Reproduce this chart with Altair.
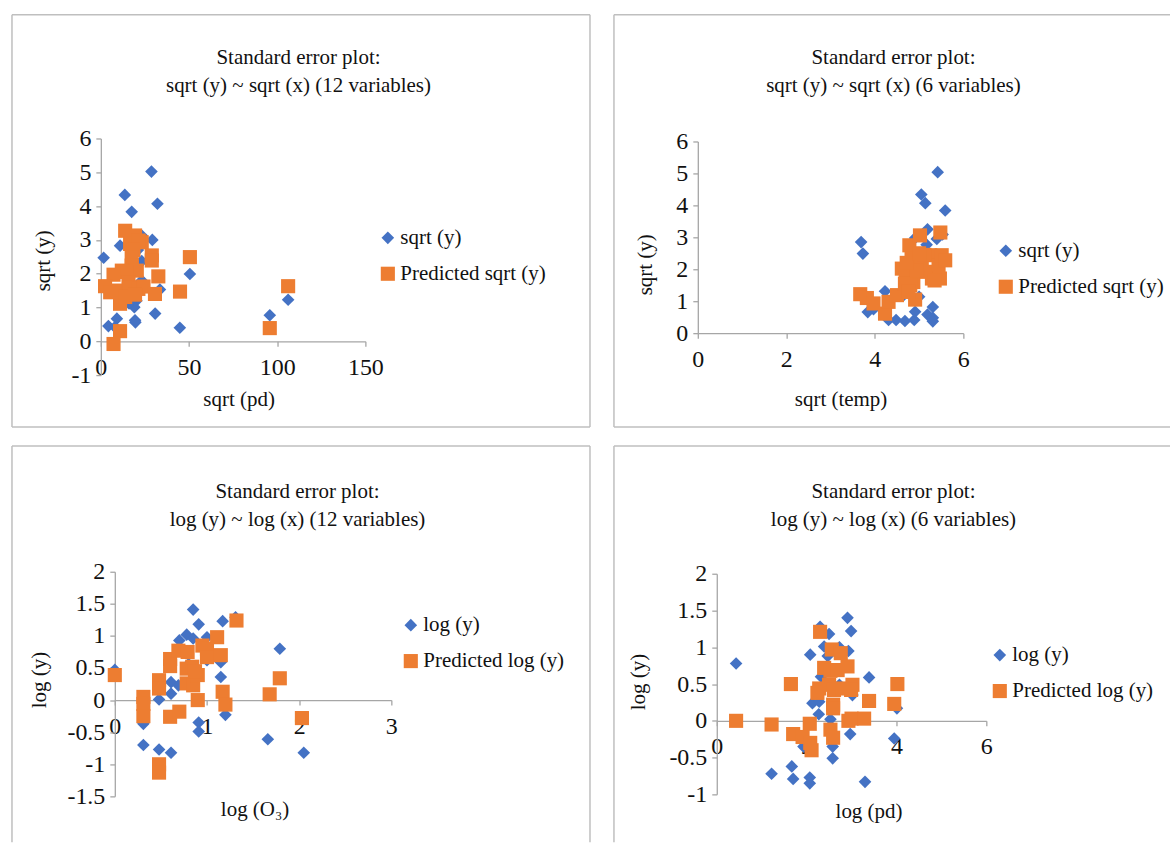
import altair as alt
import pandas as pd

FONT = "Liberation Serif"
TEXT = "#111111"
AXIS_GRAY = "#a6a6a6"
FRAME_GRAY = "#bfbfbf"
BLUE = "#4472C4"
ORANGE = "#ED7D31"

# ---------------- data ----------------
# Panel 1: sqrt(y) ~ sqrt(x) (12 variables), x = sqrt(pd)
p1_obs_x = [28.7, 13.6, 32.1, 17.5, 23.2, 29.2, 10.9, 1.6, 23.2, 50.5, 23.2, 33.5, 14.7, 20.2,
            19.0, 30.8, 19.4, 19.6, 9.1, 4.3, 8.0, 44.8, 95.8, 106.2, 16.0, 21.0, 14.5]
p1_obs_y = [5.02, 4.33, 4.07, 3.83, 3.13, 3.00, 2.83, 2.47, 2.37, 1.99, 1.80, 1.53, 1.22, 1.20,
            1.01, 0.82, 0.62, 0.56, 0.67, 0.45, 0.42, 0.40, 0.77, 1.23, 1.12, 2.70, 1.90]
p1_pred_x = [13.8, 19.4, 23.2, 16.6, 21.5, 18.5, 28.9, 28.9, 50.5, 17.5, 17.5, 20.4, 11.9, 14.5,
             7.2, 32.6, 2.4, 5.3, 10.0, 15.7, 16.5, 21.3, 24.2, 30.7, 44.9, 10.9, 13.8, 19.4,
             10.9, 7.2, 95.8, 106.2]
p1_pred_y = [3.27, 3.13, 2.93, 2.88, 2.98, 2.70, 2.54, 2.39, 2.49, 2.49, 2.24, 2.09, 2.09, 2.05,
             1.97, 1.92, 1.63, 1.45, 1.50, 1.75, 1.60, 1.55, 1.62, 1.40, 1.47, 1.11, 1.31, 1.38,
             0.30, -0.08, 0.39, 1.63]

# Panel 2: sqrt(y) ~ sqrt(x) (6 variables), x = sqrt(temp)
p2_obs_x = [5.42, 5.05, 5.14, 5.59, 5.19, 5.53, 5.40, 4.91, 5.17, 3.69, 3.73, 4.95, 4.23, 5.00,
            4.65, 3.84, 3.97, 4.31, 4.48, 4.68, 4.89, 4.91, 5.19, 5.31, 5.31, 5.31]
p2_obs_y = [5.04, 4.34, 4.07, 3.84, 3.25, 3.09, 2.95, 2.98, 2.77, 2.85, 2.49, 2.04, 1.31, 1.14,
            1.19, 0.66, 0.75, 0.41, 0.41, 0.38, 0.41, 0.67, 0.58, 0.82, 0.48, 0.37]
p2_pred_x = [3.67, 3.82, 3.97, 4.23, 4.31, 4.50, 4.61, 4.70, 4.78, 4.83, 4.87, 4.91, 4.80, 5.02,
             5.06, 5.17, 5.25, 5.29, 5.48, 5.44, 5.47, 5.51, 5.59, 4.68, 4.76, 4.95, 5.12, 5.35,
             4.72, 5.00]
p2_pred_y = [1.22, 1.10, 0.93, 0.61, 0.98, 1.19, 2.02, 1.80, 2.75, 2.33, 1.60, 1.05, 1.50, 3.06,
             2.23, 1.92, 2.44, 1.71, 3.15, 2.13, 1.71, 2.44, 2.28, 1.55, 1.29, 1.97, 2.45, 1.65,
             2.20, 2.50]

# Panel 3: log(y) ~ log(x) (12 variables), x = log(O3)
p3_obs_x = [0.85, 0.91, 1.17, 1.31, 0.78, 0.70, 0.85, 1.00, 1.00, 1.15, 1.15, 1.79, 0.61, 0.69,
            0.61, 0.48, 1.20, 0.91, 0.91, 0.31, 0.31, 0.48, 0.61, 1.66, 2.05, 0.00, 0.80]
p3_obs_y = [1.41, 1.18, 1.23, 1.29, 1.02, 0.93, 0.96, 0.98, 0.62, 0.59, 0.36, 0.80, 0.28, 0.23,
            0.10, 0.01, -0.23, -0.35, -0.49, -0.37, -0.70, -0.77, -0.82, -0.61, -0.82, 0.47, 0.56]
p3_pred_x = [0.00, 0.31, 0.31, 0.31, 0.48, 0.48, 0.48, 0.48, 0.60, 0.60, 0.60, 0.70, 0.69, 0.79,
             0.78, 0.84, 0.78, 0.85, 0.90, 0.90, 0.95, 1.00, 1.00, 1.11, 1.15, 1.17, 1.20, 1.32,
             1.68, 1.79, 2.03, 0.87]
p3_pred_y = [0.39, 0.05, -0.06, -0.25, 0.31, 0.18, -1.00, -1.13, 0.64, 0.53, -0.26, -0.18, 0.77,
             0.75, 0.49, 0.52, 0.26, 0.23, 0.39, 0.00, 0.85, 0.80, 0.67, 0.98, 0.70, 0.13, -0.07,
             1.24, 0.09, 0.34, -0.28, 0.45]

# Panel 4: log(y) ~ log(x) (6 variables), x = log(pd)
p4_obs_x = [0.43, 2.91, 2.99, 2.30, 2.50, 2.39, 2.73, 2.93, 2.08, 2.47, 3.39, 2.32, 2.73, 3.02,
            2.13, 2.28, 2.27, 2.53, 2.97, 4.01, 3.95, 1.93, 2.58, 2.58, 1.22, 1.67, 1.70, 2.07,
            2.07, 3.30]
p4_obs_y = [0.78, 1.40, 1.22, 1.28, 1.18, 1.01, 1.00, 0.95, 0.90, 0.88, 0.59, 0.60, 0.49, 0.35,
            0.24, 0.26, 0.09, 0.02, -0.18, 0.17, -0.24, -0.35, -0.35, -0.51, -0.72, -0.62, -0.79,
            -0.77, -0.85, -0.83]
p4_pred_x = [0.43, 1.22, 1.65, 1.70, 1.91, 2.07, 2.08, 2.11, 2.30, 2.28, 2.24, 2.39, 2.53, 2.56,
             2.76, 2.69, 2.91, 2.50, 2.61, 2.80, 3.02, 2.99, 2.59, 2.59, 2.53, 2.59, 2.93, 3.00,
             3.28, 3.39, 3.95, 4.02]
p4_pred_y = [0.00, -0.05, 0.50, -0.18, -0.22, -0.04, -0.30, -0.40, 1.21, 0.44, 0.38, 0.72, 0.68,
             0.97, 0.92, 0.69, 0.74, 0.49, 0.42, 0.44, 0.49, 0.42, 0.22, 0.17, -0.12, -0.23, 0.00,
             0.03, 0.03, 0.27, 0.23, 0.50]

sqrt_names = ["sqrt (y)", "Predicted sqrt (y)"]
log_names = ["log (y)", "Predicted log (y)"]

# ---------------- layout (page pixels) ----------------
GW, GH = 300, 240          # group size of each concat cell
ONE = pd.DataFrame({"k": [0]})


def frame_lines(ox, oy, left, top, right, bottom, edges):
    out = []
    def L(**enc):
        return alt.Chart(ONE).mark_rule(color=FRAME_GRAY, strokeWidth=1.5).encode(**enc)
    if "top" in edges:
        out.append(L(x=alt.value(left - ox), x2=alt.value(right - ox), y=alt.value(top - oy)))
    if "bottom" in edges:
        out.append(L(x=alt.value(left - ox), x2=alt.value(right - ox), y=alt.value(bottom - oy)))
    if "left" in edges:
        out.append(L(x=alt.value(left - ox), y=alt.value(top - oy), y2=alt.value(bottom - oy)))
    if "right" in edges:
        out.append(L(x=alt.value(right - ox), y=alt.value(top - oy), y2=alt.value(bottom - oy)))
    return out


def panel(obs_x, obs_y, pred_x, pred_y, names, origin, xdom, xticks, ydom, yticks,
          a, b, w, h, title_lines, title_c, xtitle, xtitle_c, ytitle, ytitle_c,
          legend_c, frame, edges):
    ox, oy = origin
    df = pd.DataFrame({
        "x": obs_x + pred_x,
        "y": obs_y + pred_y,
        "series": [names[0]] * len(obs_x) + [names[1]] * len(pred_x),
    })
    ymin, ymax = ydom
    y0 = b + h * (ymax - 0) / (ymax - ymin)   # pixel row of y = 0 inside the group

    xaxis = alt.Axis(values=xticks, labelExpr="'' + datum.value", offset=-(GH - y0),
                     title=xtitle, titleX=xtitle_c[0] - ox, titleY=xtitle_c[1] - (oy + y0),
                     titleAlign="center", titleBaseline="middle",
                     labelFlush=False, labelOverlap=False, tickSize=5, labelPadding=9,
                     grid=False)
    yaxis = alt.Axis(values=yticks, labelExpr="'' + datum.value", offset=-a,
                     title=ytitle, titleX=ytitle_c[0] - (ox + a), titleY=ytitle_c[1] - oy,
                     titleAlign="center", titleBaseline="middle", titleAngle=270,
                     labelFlush=False, labelOverlap=False, tickSize=5, labelPadding=5,
                     grid=False)
    leg = alt.Legend(orient="none", legendX=legend_c[0] - ox - 10, legendY=legend_c[1] - oy - 13,
                     title=None, labelFont=FONT, labelFontSize=21, labelColor=TEXT,
                     rowPadding=14, labelOffset=2, padding=0, symbolStrokeWidth=0)

    pts = alt.Chart(df).mark_point(filled=True, opacity=1, strokeWidth=0).encode(
        x=alt.X("x:Q", scale=alt.Scale(domain=xdom, range=[a, a + w], nice=False, zero=False),
                axis=xaxis),
        y=alt.Y("y:Q", scale=alt.Scale(domain=ydom, range=[b + h, b], nice=False, zero=False),
                axis=yaxis),
        color=alt.Color("series:N", scale=alt.Scale(domain=names, range=[BLUE, ORANGE]), legend=leg),
        shape=alt.Shape("series:N", scale=alt.Scale(domain=names, range=["diamond", "square"]), legend=leg),
        size=alt.Size("series:N", scale=alt.Scale(domain=names, range=[160, 200]), legend=leg),
    )

    titles = []
    for i, line in enumerate(title_lines):
        titles.append(
            alt.Chart(ONE).mark_text(text=line, font=FONT, fontSize=21, color=TEXT,
                                     align="center", baseline="middle").encode(
                x=alt.value(title_c[0] - ox), y=alt.value(title_c[1] + 28 * i - oy))
        )

    left, top, right, bottom = frame
    layers = frame_lines(ox, oy, left, top, right, bottom, edges) + titles + [pts]
    return alt.layer(*layers).properties(width=GW, height=GH)


p1 = panel(p1_obs_x, p1_obs_y, p1_pred_x, p1_pred_y, sqrt_names, (99, 136),
           [0, 150], [0, 50, 100, 150], [-1, 6], [-1, 0, 1, 2, 3, 4, 5, 6],
           0, 0, 265, 237,
           ["Standard error plot:", "sqrt (y) ~ sqrt (x) (12 variables)"], (297, 55),
           "sqrt (pd)", (237, 397), "sqrt (y)", (42, 258),
           (386, 238), (10, 12, 589, 425), ["left", "top", "right", "bottom"])

p2 = panel(p2_obs_x, p2_obs_y, p2_pred_x, p2_pred_y, sqrt_names, (697, 136),
           [0, 6], [0, 2, 4, 6], [0, 6], [0, 1, 2, 3, 4, 5, 6],
           0, 3, 266, 192,
           ["Standard error plot:", "sqrt (y) ~ sqrt (x) (6 variables)"], (893, 55),
           "sqrt (temp)", (840, 397), "sqrt (y)", (645, 262),
           (1005, 251), (613, 12, 1170, 425), ["left", "top", "bottom"])

p3 = panel(p3_obs_x, p3_obs_y, p3_pred_x, p3_pred_y, log_names, (99, 570),
           [0, 3], [0, 1, 2, 3], [-1.5, 2], [-1.5, -1, -0.5, 0, 0.5, 1, 1.5, 2],
           14, 0, 277, 225,
           ["Standard error plot:", "log (y) ~ log (x) (12 variables)"], (296, 490),
           "log (O₃)", (253, 808), "log (y)", (38, 678),
           (409, 626), (10, 444, 589, 841), ["left", "top", "right"])

p4 = panel(p4_obs_x, p4_obs_y, p4_pred_x, p4_pred_y, log_names, (697, 570),
           [0, 6], [0, 2, 4, 6], [-1, 2], [-1, -0.5, 0, 0.5, 1, 1.5, 2],
           19, 2, 270, 221,
           ["Standard error plot:", "log (y) ~ log (x) (6 variables)"], (893, 490),
           "log (pd)", (868, 810), "log (y)", (638, 680),
           (999, 656), (613, 444, 1170, 841), ["left", "top"])

chart = alt.concat(
    p1, p2, p3, p4, columns=2,
    spacing=alt.RowColnumber(row=434 - GH, column=598 - GW),
    bounds="flush",
).resolve_scale(
    color="independent", shape="independent", size="independent"
).properties(
    padding={"left": 10, "top": 12, "right": 0, "bottom": 0}
).configure_view(
    stroke="transparent"
).configure_axis(
    domainColor=AXIS_GRAY, tickColor=AXIS_GRAY, domainWidth=1.3, tickWidth=1.3,
    labelFont=FONT, labelFontSize=24, labelColor=TEXT,
    titleFont=FONT, titleFontSize=21, titleFontWeight="normal", titleColor=TEXT,
)

chart.save("out.html", embed_options={"renderer": "svg", "actions": False})
